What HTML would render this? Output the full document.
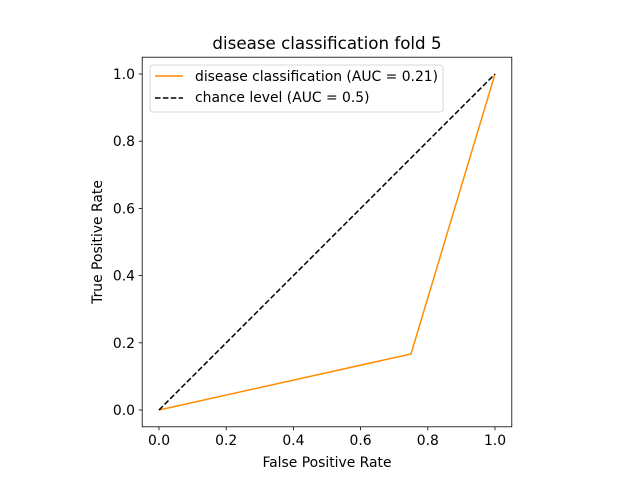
<!DOCTYPE html>
<html><head><meta charset="utf-8"><style>
body{margin:0;background:#fff}
svg text{font-family:"DejaVu Sans","Liberation Sans",sans-serif;fill:#000}
</style></head><body>
<svg id="chart" width="640" height="480" viewBox="0 0 640 480">
<rect width="640" height="480" fill="#fff"/>
<text x="327" y="49" font-size="16.7" text-anchor="middle">disease classification fold 5</text>
<g id="ticks"></g>
<g id="lines"></g>
<rect x="142.2" y="57.2" width="369.6" height="369.6" fill="none" stroke="#000" stroke-width="0.8"/>
<text x="327" y="467" font-size="13.9" text-anchor="middle">False Positive Rate</text>
<text transform="translate(102,242) rotate(-90)" font-size="13.9" text-anchor="middle">True Positive Rate</text>
<g>
<rect x="150" y="65" width="293" height="47" rx="3" fill="#fff" fill-opacity="0.8" stroke="#ccc" stroke-width="0.8"/>
<line x1="155" y1="76" x2="183" y2="76" stroke="#ff8c00" stroke-width="1.5"/>
<text x="195" y="81" font-size="13.9">disease classification (AUC = 0.21)</text>
<line x1="155" y1="98" x2="183" y2="98" stroke="#000" stroke-width="1.5" stroke-dasharray="5.5,2.4"/>
<text x="195" y="102" font-size="13.9">chance level (AUC = 0.5)</text>
</g>
</svg>
<script>
const ticks=[0,0.2,0.4,0.6,0.8,1.0];
const tickLabels=["0.0","0.2","0.4","0.6","0.8","1.0"];
const rocFpr=[0,0.75,1];
const rocTpr=[0,0.1667,1];
const chanceFpr=[0,1];
const chanceTpr=[0,1];
const X=v=>159+v*336, Y=v=>410-v*336;
const ns="http://www.w3.org/2000/svg";
const tg=document.getElementById('ticks'), lg=document.getElementById('lines');
function mk(t,a,p){const e=document.createElementNS(ns,t);for(const k in a)e.setAttribute(k,a[k]);p.appendChild(e);return e;}
ticks.forEach((t,i)=>{
 const a=mk('line',{x1:X(t),x2:X(t),y1:426.8,y2:430.3,stroke:'#000','stroke-width':0.8},tg);
 
 
 const b=mk('text',{x:X(t),y:445,'font-size':13.9,'text-anchor':'middle'},tg);b.textContent=tickLabels[i];
 
 
 const c=mk('line',{x1:138.7,x2:142.2,y1:Y(t),y2:Y(t),stroke:'#000','stroke-width':0.8},tg);
 
 
 const d=mk('text',{x:135,y:Y(t)+5,'font-size':13.9,'text-anchor':'end'},tg);d.textContent=tickLabels[i];
 
 
});
const roc=mk('polyline',{points:rocFpr.map((v,i)=>X(v)+','+Y(rocTpr[i])).join(' '),fill:'none',stroke:'#ff8c00','stroke-width':1.5},lg);


const ch=mk('polyline',{points:chanceFpr.map((v,i)=>X(v)+','+Y(chanceTpr[i])).join(' '),fill:'none',stroke:'#000','stroke-width':1.5,'stroke-dasharray':'5.5,2.4'},lg);


</script>
</body></html>
